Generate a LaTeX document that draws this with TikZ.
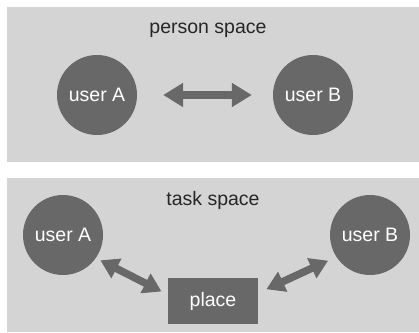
\documentclass[tikz,border=0pt]{standalone}
\usepackage{fontspec}
\setmainfont{Liberation Sans}
\usetikzlibrary{arrows.meta}
\definecolor{panelgray}{RGB}{212,212,212}
\definecolor{darkgray}{RGB}{104,104,104}
\begin{document}
\begin{tikzpicture}[x=1pt, y=-1pt]
    \tikzstyle{panel} = [fill=panelgray, draw=none]
    \tikzstyle{user} = [circle, fill=darkgray, text=white, minimum size=80pt, inner sep=0pt, font=\fontsize{19.5}{20}\selectfont]
    \tikzstyle{spot} = [rectangle, fill=darkgray, text=white, minimum width=90pt, minimum height=46pt, inner sep=0pt, font=\fontsize{19.5}{20}\selectfont]
    \tikzstyle{title} = [text=black!85, font=\fontsize{19.5}{20}\selectfont]
    \tikzstyle{link} = [darkgray, line width=8pt, {Triangle[width=23pt, length=20pt]}-{Triangle[width=23pt, length=20pt]}]
    \tikzstyle{thin link} = [darkgray, line width=7.5pt, {Triangle[width=21pt, length=18pt]}-{Triangle[width=21pt, length=18pt]}]
    \useasboundingbox (0, 0) rectangle (419, 332);
    \fill[white] (0, 0) rectangle (419, 332);
    \fill[panel] (7, 7) rectangle (419, 162);
    \fill[panel] (7, 178) rectangle (419, 332);
    \node[title] (person) at (208, 30) {person space};
    \node[user] (ua) at (97, 95) {user A};
    \node[user] (ub) at (313, 95) {user B};
    \draw[link, shorten <=26pt, shorten >=21pt] (ua) -- (ub);
    \node[title] (task) at (213, 200) {task space};
    \node[user] (ta) at (63, 235) {user A};
    \node[user] (tb) at (370, 235) {user B};
    \node[spot] (pl) at (213, 301) {place};
    \draw[thin link, shorten <=5pt, shorten >=7pt] (ta.-35) -- (pl.172);
    \draw[thin link, shorten <=9pt, shorten >=9pt] (pl.10) -- (tb.213);
\end{tikzpicture}
\end{document}
